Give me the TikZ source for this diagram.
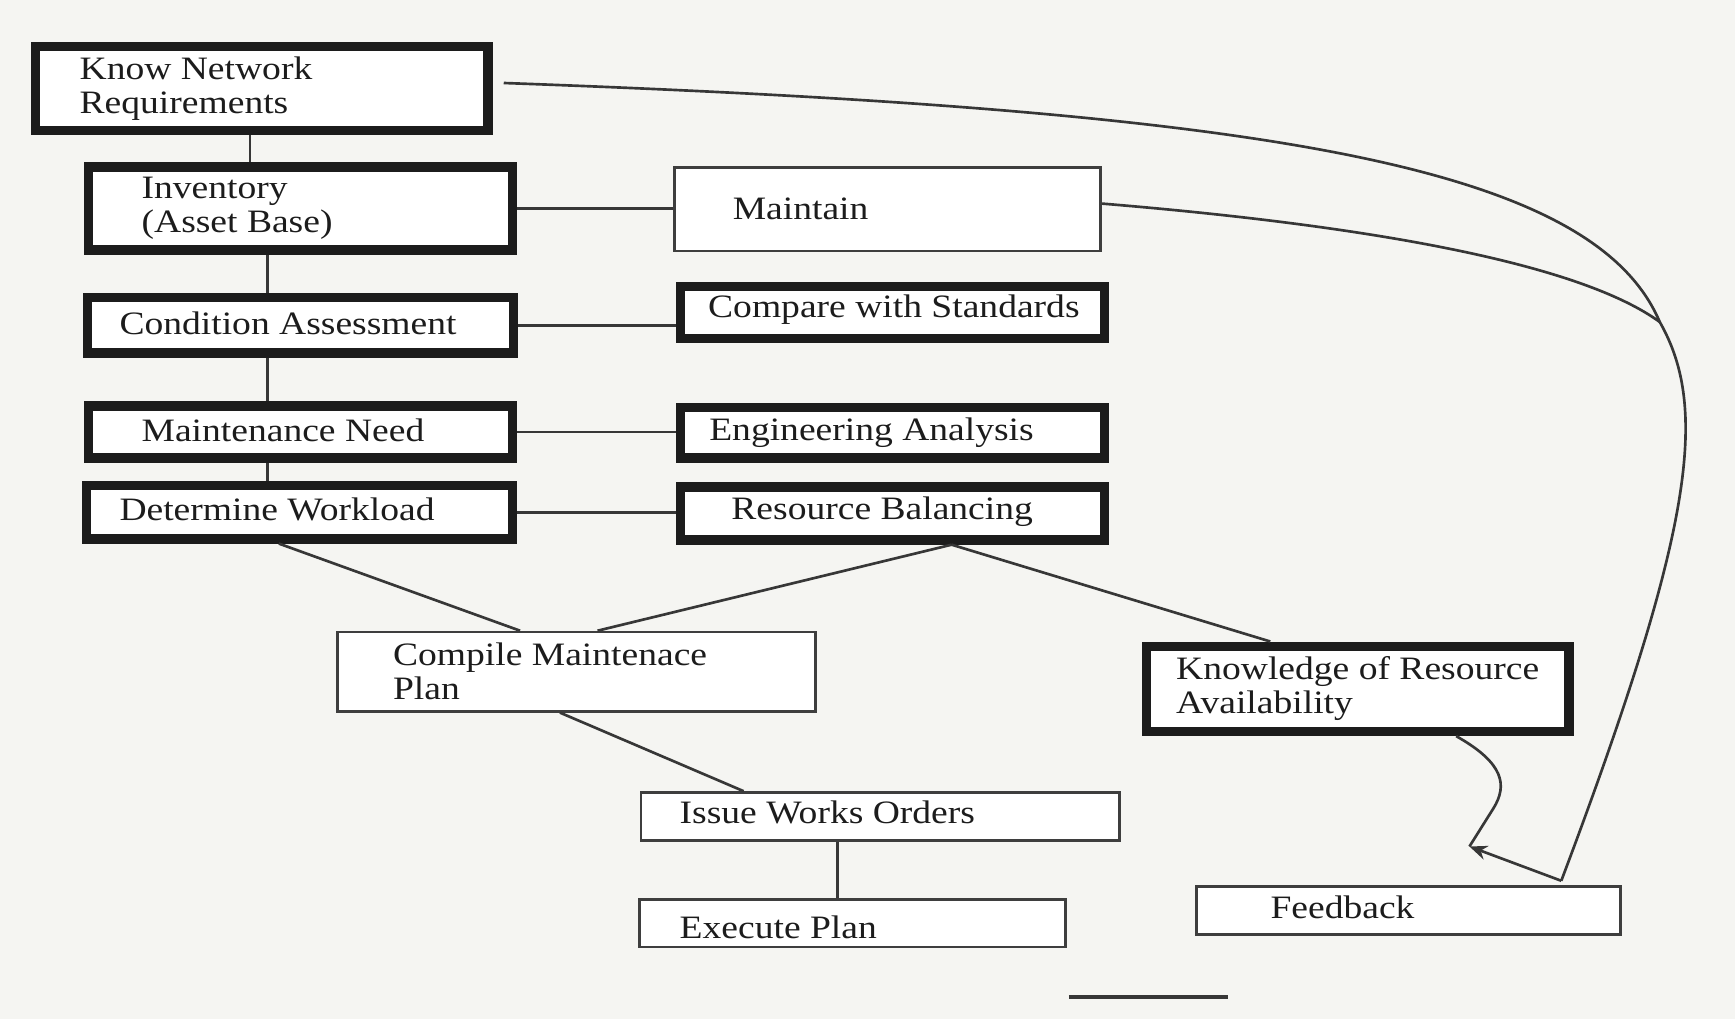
\documentclass[tikz,border=0pt]{standalone}
\usepackage{fontspec}
\setmainfont{Liberation Serif}[FakeStretch=1.15]
\usetikzlibrary{arrows.meta}
\definecolor{bg}{RGB}{245,245,242}
\definecolor{ink}{RGB}{28,28,28}
\definecolor{lnk}{RGB}{55,55,55}
\newcommand\bxt[4][0mm]{\raisebox{#1}[\height][\depth]{\parbox{#2}{\raggedright\leftskip=#3\relax #4}}}
\begin{document}
\begin{tikzpicture}[x=1mm,y=-1mm,
  txt/.style={text=ink,font=\fontsize{8.4pt}{8.8pt}\selectfont},
  tbox/.style={txt,draw=ink,line width=0.85mm,fill=white,inner sep=0pt},
  nbox/.style={txt,draw=ink!85,line width=0.25mm,fill=white,inner sep=0pt},
  conn/.style={draw=lnk,line width=0.24mm}]
\fill[bg] (0,0) rectangle (156.8,92.1);
\useasboundingbox (0,0) rectangle (156.8,92.1);

% boxes
\node[tbox, minimum width=40.9mm, minimum height=7.6mm] (knr) at (23.65,8.0) {\bxt{40.9mm}{4.0mm}{Know Network\\Requirements}};
\node[tbox, minimum width=38.3mm, minimum height=7.5mm] (inv) at (27.15,18.85) {\bxt{38.3mm}{4.8mm}{Inventory\\(Asset Base)}};
\node[nbox, minimum width=38.55mm, minimum height=7.55mm] (mnt) at (80.2,18.9) {\bxt{38.55mm}{5.3mm}{Maintain}};
\node[tbox, minimum width=38.5mm, minimum height=5.0mm] (ca) at (27.15,29.4) {\bxt[0.2mm]{38.5mm}{2.9mm}{Condition Assessment}};
\node[tbox, minimum width=38.3mm, minimum height=4.7mm] (cws) at (80.65,28.25) {\bxt[0.3mm]{38.3mm}{2.5mm}{Compare with Standards}};
\node[tbox, minimum width=38.3mm, minimum height=4.7mm] (mn) at (27.15,39.05) {\bxt[0.2mm]{38.3mm}{4.8mm}{Maintenance Need}};
\node[tbox, minimum width=38.3mm, minimum height=4.6mm] (ea) at (80.65,39.1) {\bxt{38.3mm}{2.6mm}{Engineering Analysis}};
\node[tbox, minimum width=38.5mm, minimum height=4.8mm] (dw) at (27.05,46.3) {\bxt[0.3mm]{38.5mm}{3.0mm}{Determine Workload}};
\node[tbox, minimum width=38.3mm, minimum height=4.8mm] (rb) at (80.65,46.4) {\bxt[0.2mm]{38.3mm}{4.6mm}{Resource Balancing}};
\node[nbox, minimum width=43.15mm, minimum height=7.15mm] (cmp) at (52.1,60.7) {\bxt{43.15mm}{5.0mm}{Compile Maintenace\\Plan}};
\node[tbox, minimum width=38.2mm, minimum height=7.7mm] (kra) at (122.7,62.25) {\bxt{38.2mm}{2.7mm}{Knowledge of Resource\\Availability}};
\node[nbox, minimum width=43.25mm, minimum height=4.35mm] (iwo) at (79.55,73.8) {\bxt[0.4mm]{43.25mm}{3.5mm}{Issue Works Orders}};
\node[nbox, minimum width=38.45mm, minimum height=4.25mm] (ep) at (77.05,83.45) {\bxt[-0.4mm]{38.45mm}{3.6mm}{Execute Plan}};
\node[nbox, minimum width=38.35mm, minimum height=4.35mm] (fb) at (127.3,82.3) {\bxt[0.3mm]{38.35mm}{6.7mm}{Feedback}};

% helper coordinates
\coordinate (xa) at (22.6,0);
\coordinate (xb) at (24.2,0);
\coordinate (xc) at (25.2,0);
\coordinate (xd) at (47.0,0);
\coordinate (xe) at (86.0,0);
\coordinate (xf) at (54.0,0);
\coordinate (xg) at (114.8,0);
\coordinate (xh) at (50.6,0);
\coordinate (xi) at (67.2,0);
\coordinate (xj) at (75.7,0);
\coordinate (xk) at (131.6,0);
\coordinate (m) at (150.0,29.1);
\coordinate (fbc) at (141.1,79.6);
\coordinate (jn) at (132.8,76.5);
\coordinate (ula) at (96.6,90.1);
\coordinate (ulb) at (111.0,90.1);

% vertical chain
\draw[conn] (knr.south -| xa) -- (inv.north -| xa);
\draw[conn] (inv.south -| xb) -- (ca.north -| xb);
\draw[conn] (ca.south -| xb) -- (mn.north -| xb);
\draw[conn] (mn.south -| xb) -- (dw.north -| xb);
% horizontal links
\draw[conn] (inv.east) -- (inv.east -| mnt.west);
\draw[conn] (ca.east) -- (ca.east -| cws.west);
\draw[conn] (mn.east) -- (mn.east -| ea.west);
\draw[conn] (dw.east) -- (dw.east -| rb.west);
% lower links
\draw[conn] (dw.south -| xc) -- (cmp.north -| xd);
\draw[conn] (rb.south -| xe) -- (cmp.north -| xf);
\draw[conn] (rb.south -| xe) -- (kra.north -| xg);
\draw[conn] (cmp.south -| xh) -- (iwo.north -| xi);
\draw[conn] (iwo.south -| xj) -- (ep.north -| xj);
% feedback curves
\draw[conn] ([xshift=1mm,yshift=0.5mm]knr.east) .. controls (115,10) and (144,15) .. (m)
  .. controls (154.5,37) and (153,48) .. (fbc);
\draw[conn] ([yshift=0.5mm]mnt.east) .. controls (125,20.5) and (143,24) .. (m);
\draw[conn, -{Stealth[length=1.6mm,width=1.3mm]}] (fbc) -- (jn);
\draw[conn] (kra.south -| xk) .. controls (136,69.0) and (136.2,71.0) .. (135.0,73.0) -- (jn);
% short rule at bottom
\draw[draw=lnk, line width=0.3mm] (ula) -- (ulb);
\end{tikzpicture}
\end{document}
